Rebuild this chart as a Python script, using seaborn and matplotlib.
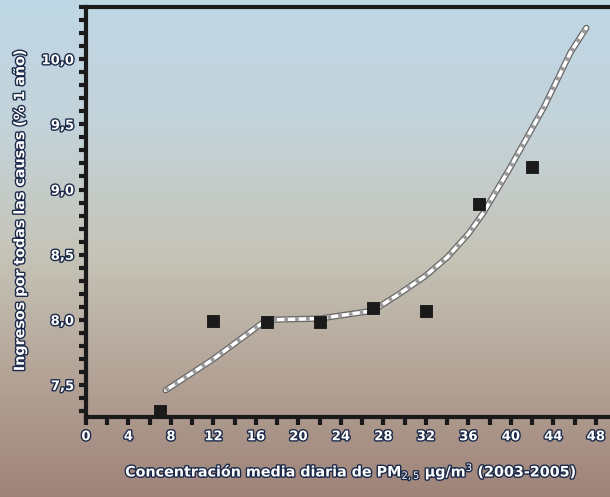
import numpy as np
import pandas as pd
import matplotlib
matplotlib.use("Agg")
import matplotlib.pyplot as plt
import matplotlib.patheffects as pe
from matplotlib.colors import LinearSegmentedColormap
import seaborn as sns

# data
pm_obs = [7, 12, 17, 22, 27, 32, 37, 42]
adm_obs = [7.30, 7.99, 7.98, 7.98, 8.09, 8.07, 8.89, 9.17]
pm_fit = [7.5, 12, 17, 22, 27, 29.5, 32, 34, 36, 37.4, 39.8, 43.1, 45.6, 47.1]
adm_fit = [7.46, 7.70, 8.00, 8.01, 8.07, 8.20, 8.34, 8.48, 8.66, 8.82, 9.15, 9.63, 10.05, 10.24]
x_ticks = [0, 4, 8, 12, 16, 20, 24, 28, 32, 36, 40, 44, 48]
y_ticks = [7.5, 8.0, 8.5, 9.0, 9.5, 10.0]
y_ticklabels = ["7,5", "8,0", "8,5", "9,0", "9,5", "10,0"]
x_label = "Concentración media diaria de PM$_{2,5}$ µg/m$^3$ (2003-2005)"
y_label = "Ingresos por todas las causas (% 1 año)"

sns.set_style("ticks")
plt.rcParams['font.family'] = ['DejaVu Sans']

fig = plt.figure(figsize=(6.1, 4.97), dpi=100)

# background gradient
bg = fig.add_axes([0, 0, 1, 1], zorder=-10)
cmap = LinearSegmentedColormap.from_list(
    "bg", ["#bfd7e5", "#c3d3da", "#c6c5b9", "#b4a497", "#9f8379"])
grad = np.linspace(0, 1, 256).reshape(-1, 1)
bg.imshow(grad, aspect="auto", cmap=cmap, extent=[0, 1, 0, 1])
bg.set_axis_off()

ax = fig.add_axes([86/610, 1 - 417/497, 1 - 86/610 + 0.01, (417 - 7)/497])
ax.patch.set_alpha(0)

df_fit = pd.DataFrame({"pm": pm_fit, "adm": adm_fit})
df_obs = pd.DataFrame({"pm": pm_obs, "adm": adm_obs})

sns.lineplot(data=df_fit, x="pm", y="adm", ax=ax, color="#6a6a6a", lw=4.5, zorder=3)
sns.lineplot(data=df_fit, x="pm", y="adm", ax=ax, color="white", lw=2.6,
             dashes=False, zorder=4)
ax.plot(df_fit["pm"], df_fit["adm"], color="#9a9a9a", lw=2.6, ls=(0, (1, 2)), zorder=5)
sns.scatterplot(data=df_obs, x="pm", y="adm", ax=ax, marker="s", s=65,
                color="#1a1a1a", edgecolor="#1a1a1a", zorder=6)

ax.set_xlim(0, 49.9)
ax.set_ylim(7.255, 10.39)
ax.set_xticks(x_ticks)
ax.set_xticks(np.arange(0, 50, 2), minor=True)
ax.set_yticks(y_ticks)
ax.set_yticks(np.arange(7.3, 10.4, 0.1), minor=True)
ax.set_yticklabels(y_ticklabels)

for s in ["left", "bottom", "top"]:
    ax.spines[s].set_linewidth(3)
    ax.spines[s].set_color("#1a1a1a")
ax.spines["right"].set_visible(False)

ax.tick_params(axis="both", which="both", direction="out", color="#1a1a1a", width=3)
ax.tick_params(axis="x", which="both", length=6)
ax.tick_params(axis="y", which="both", length=5)

effects = [pe.withStroke(linewidth=2, foreground="#1c2a4a")]
for lab in ax.get_xticklabels() + ax.get_yticklabels():
    lab.set_color("white")
    lab.set_fontsize(9.5)
    lab.set_fontweight("bold")
    lab.set_path_effects(effects)

ax.set_xlabel("")
ax.set_ylabel("")
fig.text(0.574, 0.05, x_label, ha="center", va="center", color="white",
         fontsize=10.3, fontweight="bold", path_effects=effects)
fig.text(0.033, 0.577, y_label, ha="center", va="center", rotation=90,
         color="white", fontsize=10.3, fontweight="bold", path_effects=effects)

fig.savefig("out.png", dpi=100)
